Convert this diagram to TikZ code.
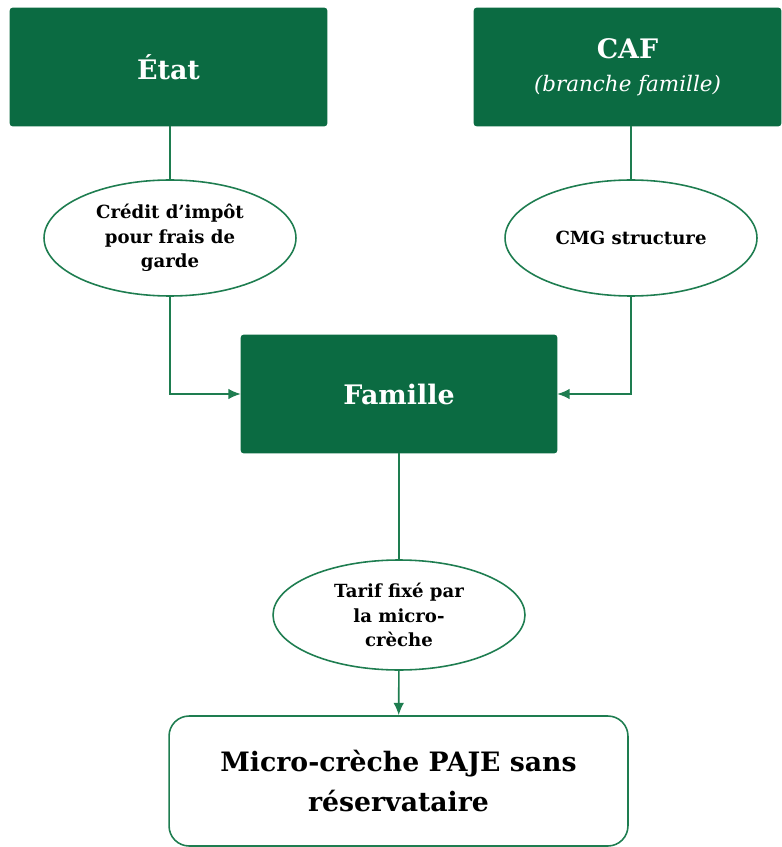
\documentclass[tikz,border=0pt]{standalone}
\usepackage{fontspec}
\setmainfont{DejaVu Serif}
\usetikzlibrary{shapes.geometric,arrows.meta}
\definecolor{vert}{RGB}{11,107,66}
\definecolor{trait}{RGB}{30,125,80}

\begin{document}
\begin{tikzpicture}
[
    x=0.02cm, y=-0.02cm,
    payeur/.style={shape=rectangle, rounded corners=0.3ex, draw=vert, fill=vert, text=white, font=\bfseries\fontsize{15.3}{18}\selectfont, align=center, minimum width=6.34cm, minimum height=2.36cm, inner sep=0pt},
    aide/.style={shape=ellipse, draw=trait, line width=0.9pt, fill=white, font=\bfseries\fontsize{10.3}{14}\selectfont, align=center, minimum width=5.04cm, minimum height=2.32cm, inner sep=0pt},
    lien/.style={draw=trait, line width=0.9pt},
    fleche/.style={lien, -{Latex[length=7pt,width=6pt]}},
]
\useasboundingbox (0,0) rectangle (781,847);

\node(etat) at (168.5,67) [payeur]{État};
\node(caf) at (627.5,67) [payeur, minimum width=6.14cm]{CAF\\[1pt]{\mdseries\itshape\fontsize{12.2}{14}\selectfont (branche famille)}};

\node(cip) at (170,238) [aide]{Crédit d’impôt\\pour frais de\\garde};
\node(cmg) at (631,238) [aide]{CMG structure};

\node(fam) at (399,394) [payeur, minimum width=6.32cm]{Famille};

\node(tarif) at (399,615) [aide, minimum height=2.2cm]{Tarif fixé par\\la micro-\\crèche};

\node(mc) at (398.5,781) [shape=rectangle, rounded corners=2.2ex, draw=trait, line width=0.9pt, align=center, minimum width=9.18cm, minimum height=2.6cm, font=\bfseries\fontsize{15.2}{22.5}\selectfont]{Micro-crèche PAJE sans\\réservataire};

\draw[lien] (etat.south -| cip) to (cip);
\draw[lien] (cmg.north) to (cmg.north |- caf.south);
\draw[fleche] (cip.south) |- (fam.west);
\draw[fleche] (cmg.south) |- (fam.east);
\draw[lien] (fam) to (tarif);
\draw[fleche] (tarif) to (mc);

\end{tikzpicture}
\end{document}
